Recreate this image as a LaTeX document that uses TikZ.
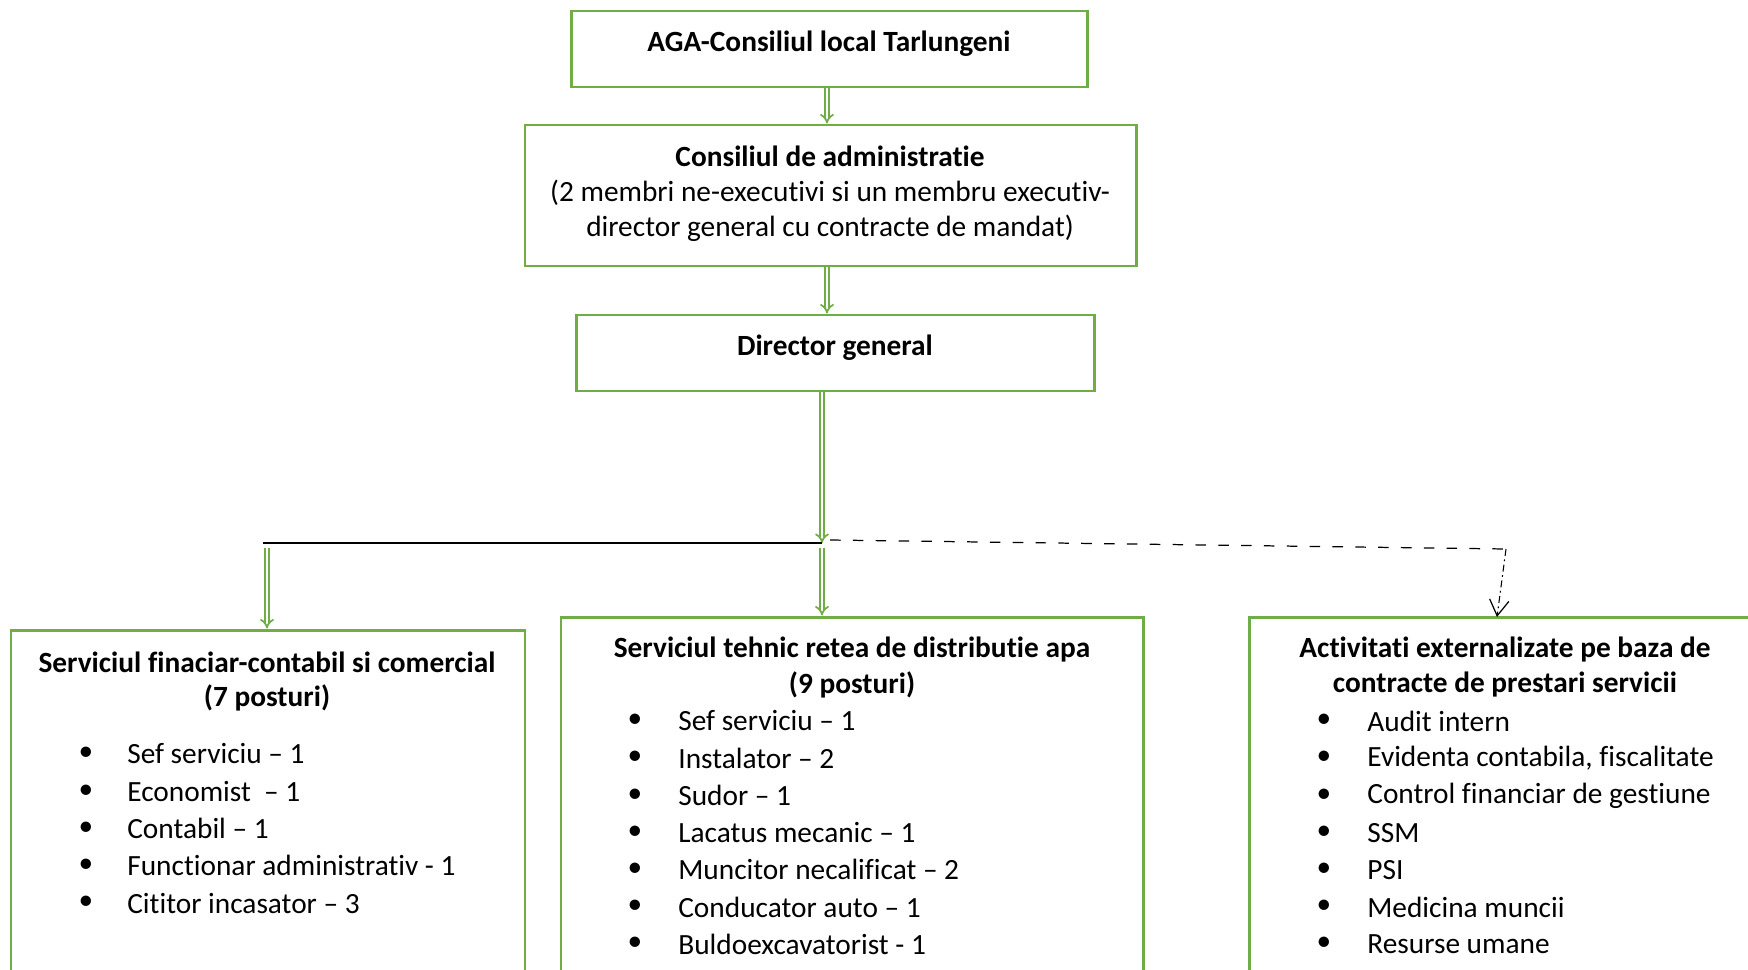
\documentclass[tikz,border=0pt]{standalone}
\usepackage{fontspec}
\setmainfont{Carlito}[Ligatures=NoCommon]
\usetikzlibrary{arrows.meta,fit}

\definecolor{orggreen}{RGB}{112,173,71}
\newcommand\orgfont{\fontsize{16.7}{21}\selectfont}

\tikzset{
    orgbox/.style={draw=orggreen, line width=1.7pt, inner sep=0pt},
    dblarrow/.style={draw=orggreen, line width=1pt, double=white, double distance=1.6pt, -{Implies}},
    headtxt/.style={font=\orgfont\bfseries, align=center, inner sep=0pt},
    plaintxt/.style={font=\orgfont, align=center, inner sep=0pt},
    bul/.style={font=\orgfont, inner sep=0pt},
    itemtxt/.style={font=\orgfont, anchor=west, inner sep=0pt},
}

\begin{document}
\begin{tikzpicture}[x=0.02cm, y=-0.02cm]
    \useasboundingbox (0,0) rectangle (1748,970);
    \clip (0,0) rectangle (1748,970);

    % boxes
    \node[orgbox, fit={(571,11) (1087,87)}] (aga) {};
    \node[orgbox, fit={(525,125) (1136,266)}] (board) {};
    \node[orgbox, fit={(576,315) (1094,391)}] (dir) {};
    \node[orgbox, fit={(11,630) (525,1000)}] (fin) {};
    \node[orgbox, fit={(561,617) (1143,1000)}] (tech) {};
    \node[orgbox, fit={(1249,617) (1780,1000)}] (ext) {};

    % texts of the upper boxes
    \node[headtxt] (agat) at (829,44) {AGA-Consiliul local Tarlungeni};
    \node[headtxt] (boardt) at (830,156) {Consiliul de administratie};
    \node[plaintxt] (boardl1) at (830,193) {(2 membri ne-executivi si un membru executiv-};
    \node[plaintxt] (boardl2) at (830,228) {director general cu contracte de mandat)};
    \node[headtxt] (dirt) at (835,348) {Director general};

    % headings of the lower boxes
    \node[headtxt] (fint) at (267,662) {Serviciul finaciar-contabil si comercial};
    \node[headtxt] (fint2) at (267,698) {(7 posturi)};
    \node[headtxt] (techt) at (852,650) {Serviciul tehnic retea de distributie apa};
    \node[headtxt] (techt2) at (852,685) {(9 posturi)};
    \node[headtxt] (extt) at (1505,650) {Activitati externalizate pe baza de};
    \node[headtxt] (extt2) at (1505,685) {contracte de prestari servicii};

    % lists
    \foreach \t [count=\i from 0] in {Sef serviciu -- 1, Economist\ \ -- 1, Contabil -- 1,
        Functionar administrativ - 1, Cititor incasator -- 3}
    {
        \node[bul] (finb\i) at (86,{754+37.3*\i}) {•};
        \node[itemtxt] (fini\i) at (127,{754+37.3*\i}) {\t};
    }
    \foreach \t [count=\i from 0] in {Sef serviciu -- 1, Instalator -- 2, Sudor -- 1,
        Lacatus mecanic -- 1, Muncitor necalificat -- 2, Conducator auto -- 1, Buldoexcavatorist - 1}
    {
        \node[bul] (techb\i) at (635,{721+37.2*\i}) {•};
        \node[itemtxt] (techi\i) at (678,{721+37.2*\i}) {\t};
    }
    \foreach \t [count=\i from 0] in {Audit intern, {Evidenta contabila, fiscalitate},
        Control financiar de gestiune, SSM, PSI, Medicina muncii, Resurse umane}
    {
        \node[bul] (extb\i) at (1324,{721+37.2*\i}) {•};
        \node[itemtxt] (exti\i) at (1367,{721+37.2*\i}) {\t};
    }

    % connectors
    \coordinate (jn) at (822,543);
    \coordinate (jl) at (263,543);
    \coordinate (jb) at (822,548);
    \coordinate (fa) at (267,548);
    \coordinate (ds) at (830,540);
    \coordinate (dc) at (1506,549);
    \coordinate (et) at (1497,617);

    \draw[dblarrow] (aga.south -| 827,0) -- (board.north -| 827,0);
    \draw[dblarrow] (board.south -| 827,0) -- (dir.north -| 827,0);
    \draw[dblarrow] (dir.south -| jn) -- (jn);
    \draw[black, line width=1.2pt] (jl) -- (jn);
    \draw[dblarrow] (jb) -- (jb |- tech.north);
    \draw[dblarrow] (fa) -- (fa |- fin.north);
    \draw[black, line width=0.7pt, dash pattern=on 6pt off 7pt] (ds) -- (dc);
    \draw[black, line width=0.6pt, dash pattern=on 4pt off 2pt on 1pt off 2pt,
        -{Straight Barb[length=9pt, width=11pt, line width=0.7pt]}] (dc) -- (et);
\end{tikzpicture}
\end{document}
